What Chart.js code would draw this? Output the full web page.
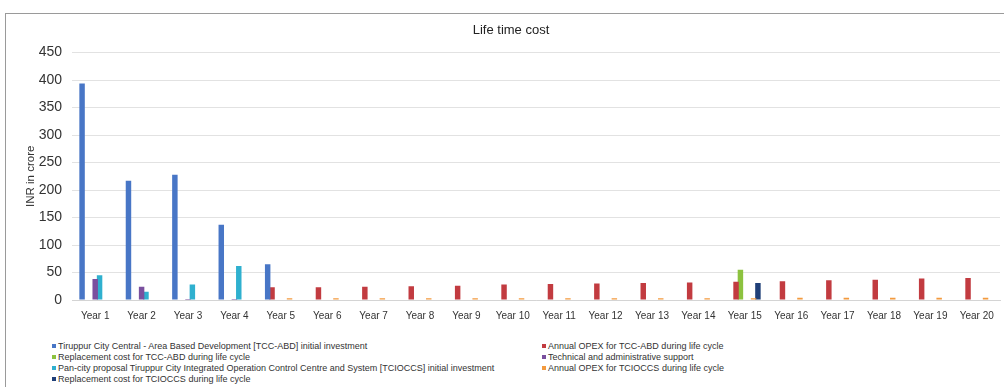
<!DOCTYPE html>
<html>
<head>
<meta charset="utf-8">
<script src="https://cdn.jsdelivr.net/npm/chart.js@4"></script>
<style>
  body { margin: 0; background: #fff; }
  #wrap { position: relative; width: 1004px; height: 387px; overflow: hidden; }
  #frame { position: absolute; left: 5px; top: 13px; width: 1100px; height: 400px; border: 1px solid #9a9a9a; box-sizing: border-box; }
  #costChart { position: absolute; left: 0; top: 0; }
  #legend { position: absolute; left: 0; top: 0; font-family: "Liberation Sans", Arial, sans-serif; font-size: 9px; color: #333; }
  .item { position: absolute; white-space: nowrap; line-height: 10px; }
  .item i { display: inline-block; width: 4px; height: 4px; margin-right: 2px; vertical-align: 1px; }
</style>
</head>
<body>
<div id="wrap">
  <div id="frame"></div>
  <canvas id="costChart" width="1004" height="336"></canvas>
  <div id="legend"></div>
</div>
<script>
// categories
var years = ['Year 1', 'Year 2', 'Year 3', 'Year 4', 'Year 5', 'Year 6', 'Year 7', 'Year 8', 'Year 9', 'Year 10',
             'Year 11', 'Year 12', 'Year 13', 'Year 14', 'Year 15', 'Year 16', 'Year 17', 'Year 18', 'Year 19', 'Year 20'];

// series values (INR crore)
var initialAbd      = [394, 217, 228, 137, 65, null, null, null, null, null, null, null, null, null, null, null, null, null, null, null];
var opexAbd         = [null, null, null, null, 23, 23, 24, 25, 26, 28, 29, 30, 31, 32, 33, 34, 36, 37, 39, 40];
var replacementAbd  = [null, null, null, null, null, null, null, null, null, null, null, null, null, null, 55, null, null, null, null, null];
var techSupport     = [38, 24, 2, 2, null, null, null, null, null, null, null, null, null, null, null, null, null, null, null, null];
var initialTcioccs  = [45, 15, 28, 62, null, null, null, null, null, null, null, null, null, null, null, null, null, null, null, null];
var opexTcioccs     = [null, null, null, null, 3, 3, 3, 3, 3, 3, 3, 3, 3, 3, 3, 4, 4, 4, 4, 4];
var replacementTcioccs = [null, null, null, null, null, null, null, null, null, null, null, null, null, null, 31, null, null, null, null, null];

var seriesNames = [
  'Tiruppur City Central - Area Based Development  [TCC-ABD] initial investment',
  'Annual OPEX for TCC-ABD during life cycle',
  'Replacement cost for TCC-ABD during life cycle',
  'Technical and administrative support',
  'Pan-city proposal Tiruppur City Integrated Operation Control Centre and System [TCIOCCS] initial investment',
  'Annual OPEX for TCIOCCS during life cycle',
  'Replacement cost for TCIOCCS during life cycle'
];
var seriesValues = [initialAbd, opexAbd, replacementAbd, techSupport, initialTcioccs, opexTcioccs, replacementTcioccs];
var seriesColors = ['#4876c6', '#c23b40', '#8cc23f', '#7a4f9e', '#2fb0cf', '#f39a3e', '#1f3f78'];

var datasets = [];
for (var i = 0; i < seriesNames.length; i++) {
  datasets.push({
    label: seriesNames[i],
    data: seriesValues[i],
    backgroundColor: seriesColors[i],
    borderWidth: 0,
    barPercentage: 1.25,
    categoryPercentage: 0.66
  });
}

var ctx = document.getElementById('costChart');
var costChart = new Chart(ctx, {
  type: 'bar',
  data: { labels: years, datasets: datasets },
  options: {
    responsive: false,
    animation: false,
    layout: { padding: { left: 22, right: 4, top: 23, bottom: 4 } },
    plugins: {
      legend: { display: false },
      tooltip: { enabled: false },
      title: {
        display: true,
        text: 'Life time cost',
        color: '#222',
        font: { family: 'Liberation Sans', size: 13, weight: 'normal' },
        padding: { top: 0, bottom: 14 }
      }
    },
    scales: {
      x: {
        grid: { display: false, drawTicks: false },
        border: { color: '#d4d4d4' },
        ticks: {
          autoSkip: false, maxRotation: 0, padding: 10,
          color: '#333',
          font: { family: 'Liberation Sans', size: 10 }
        }
      },
      y: {
        min: 0, max: 450,
        afterFit: function (scale) { scale.width = 50; },
        grid: { color: '#e2e2e2', drawTicks: false },
        border: { display: false },
        ticks: {
          stepSize: 50, padding: 10,
          color: '#333',
          font: { family: 'Liberation Sans', size: 14 }
        },
        title: {
          display: true,
          text: 'INR in crore',
          color: '#333',
          font: { family: 'Liberation Sans', size: 11.5 },
          padding: { top: 2, bottom: 0 }
        }
      }
    }
  }
});

// two-column legend, filled row by row like the original
var legend = document.getElementById('legend');
for (var j = 0; j < seriesNames.length; j++) {
  var el = document.createElement('div');
  el.className = 'item';
  el.style.left = (j % 2 === 0 ? 52 : 542) + 'px';
  el.style.top = (341 + Math.floor(j / 2) * 11) + 'px';
  el.innerHTML = '<i style="background:' + seriesColors[j] + '"></i>' + seriesNames[j];
  legend.appendChild(el);
}
</script>
</body>
</html>
